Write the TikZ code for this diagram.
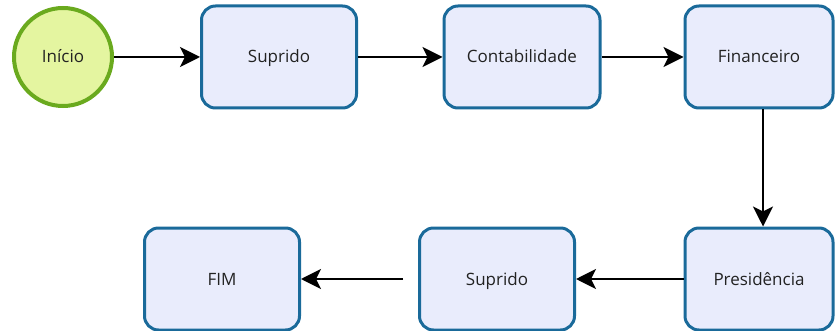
\documentclass[tikz,border=0pt]{standalone}
\usepackage{fontspec}
\setmainfont{Open Sans}
\usetikzlibrary{arrows.meta}
\definecolor{boxfill}{HTML}{E9ECFC}
\definecolor{boxdraw}{HTML}{1A6A9A}
\definecolor{startfill}{HTML}{E4F5A0}
\definecolor{startdraw}{HTML}{6AAA1E}
\definecolor{txt}{HTML}{222222}
\tikzset{
  stepbox/.style={draw=boxdraw, fill=boxfill, line width=3pt, rounded corners=14pt,
    minimum width=#1, minimum height=102pt, inner sep=0pt, text=txt,
    text height=12pt, text depth=0pt, font=\fontsize{17}{20}\selectfont},
  stepbox/.default=155pt,
  startnode/.style={circle, draw=startdraw, fill=startfill, line width=4pt, minimum size=98pt,
    inner sep=0pt, text=txt, text height=12pt, text depth=0pt, font=\fontsize{17}{20}\selectfont},
  flow/.style={line width=1.8pt, -{Stealth[length=20pt, width=20pt, inset=5pt]}}
}
\begin{document}
\begin{tikzpicture}[x=1pt, y=-1pt]
\useasboundingbox (0,0) rectangle (835,331);
\clip (0,0) rectangle (835,331);
\node[startnode] (inicio) at (63,57) {Início};
\node[stepbox] (sup1) at (279,57) {Suprido};
\node[stepbox=156pt] (cont) at (522,57) {Contabilidade};
\node[stepbox=148pt] (fin) at (759,57) {Financeiro};
\node[stepbox=148pt] (pres) at (759,279) {Presidência};
\node[stepbox] (sup2) at (497,279) {Suprido};
\node[stepbox] (fim) at (222,279) {FIM};
\draw[flow] (inicio) -- (sup1);
\draw[flow] (sup1) -- (cont);
\draw[flow] (cont) -- (fin);
\draw[flow] (fin.south -| 763,0) -- (pres.north -| 763,0);
\draw[flow] (pres) -- (sup2);
\draw[flow, shorten <=15pt] (sup2) -- (fim);
\end{tikzpicture}
\end{document}
